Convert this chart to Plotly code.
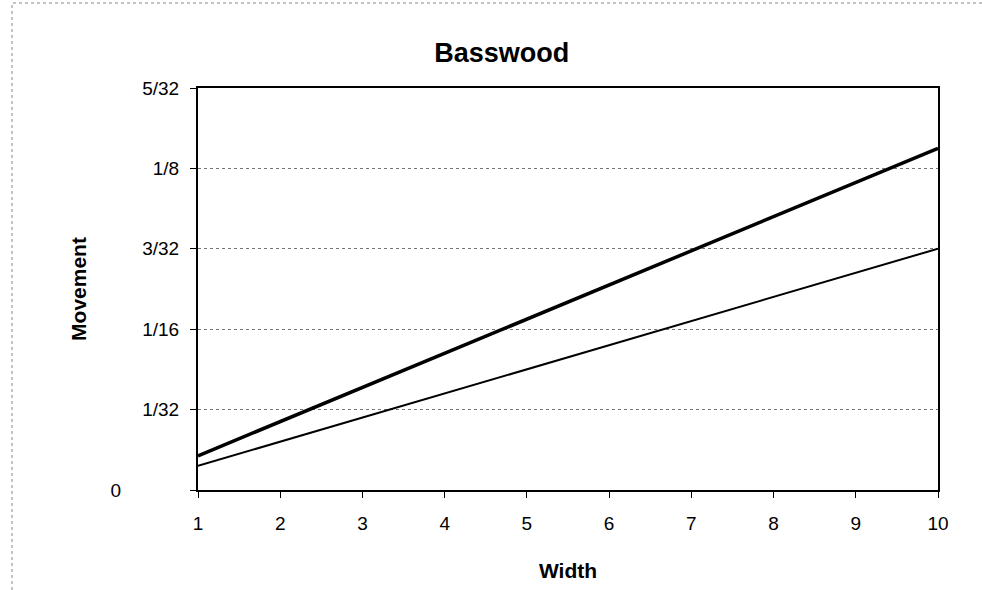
import plotly.graph_objects as go

widths = [1, 2, 3, 4, 5, 6, 7, 8, 9, 10]
movement_thick = [0.0133, 0.0266, 0.0398, 0.0531, 0.0664, 0.0797, 0.0930, 0.1062, 0.1195, 0.1328]
movement_thin = [0.0094, 0.0188, 0.0281, 0.0375, 0.0469, 0.0563, 0.0656, 0.0750, 0.0844, 0.0938]

ytick_vals = [0, 1/32, 1/16, 3/32, 1/8, 5/32]
ytick_text = ["0" + "\u00a0" * 11, "1/32", "1/16", "3/32", "1/8", "5/32"]
xtick_vals = [1, 2, 3, 4, 5, 6, 7, 8, 9, 10]

FONT = "Liberation Sans, Arial, sans-serif"

fig = go.Figure()
fig.add_trace(go.Scatter(x=widths, y=movement_thick, mode="lines",
                         line=dict(color="black", width=3.5), showlegend=False))
fig.add_trace(go.Scatter(x=widths, y=movement_thin, mode="lines",
                         line=dict(color="black", width=2), showlegend=False))

fig.update_layout(
    width=982, height=590,
    margin=dict(l=198, r=44, t=88, b=100),
    paper_bgcolor="white", plot_bgcolor="white",
    font=dict(family=FONT, color="black", size=19),
    title=dict(text="<b>Basswood</b>", x=0.511, xanchor="center", xref="container",
               y=1 - 53 / 590, yanchor="middle", yref="container",
               font=dict(size=27, family=FONT)),
    showlegend=False,
)
fig.update_xaxes(
    range=[1, 10], tickvals=xtick_vals, ticks="outside", ticklen=6, tickwidth=1,
    tickcolor="black", showgrid=False, zeroline=False,
    showline=True, linecolor="black", linewidth=2, mirror=True,
    title=dict(text="<b>Width</b>", font=dict(size=21), standoff=31),
    tickfont=dict(size=19), ticklabelstandoff=9,
)
fig.update_yaxes(
    range=[0, 5/32], tickvals=ytick_vals, ticktext=ytick_text, ticks="outside",
    ticklen=6, tickwidth=1, tickcolor="black",
    showgrid=True, gridcolor="#777777", griddash="dot", gridwidth=1,
    zeroline=False, showline=True, linecolor="black", linewidth=2, mirror=True,
    title=dict(text="<b>Movement</b>", font=dict(size=21), standoff=18),
    tickfont=dict(size=19), ticklabelstandoff=7,
)

# outer frame of the scanned chart (only top and left visible)
fig.add_shape(type="rect", xref="paper", yref="paper",
              x0=(12 - 198) / 740, x1=1.2, y0=-0.5, y1=1 + (88 - 3) / 402,
              line=dict(color="#888888", width=1, dash="dot"), layer="below")

fig.write_html("out.html", config={"displayModeBar": False},
               post_script="document.body.style.margin='0';")
